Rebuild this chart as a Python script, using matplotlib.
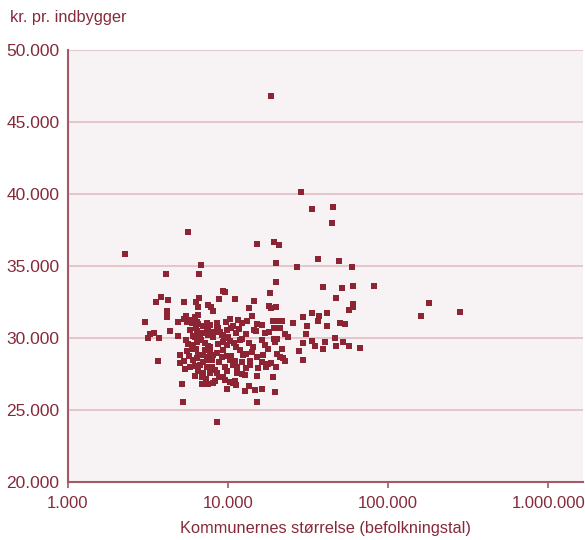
import matplotlib
matplotlib.use("Agg")
import matplotlib.pyplot as plt
import matplotlib.ticker as mticker

TEXT_RED = "#862A3B"
MARK_RED = "#8C2434"
SPINE_RED = "#A55865"
GRID_PINK = "#E3C3C8"
FACE = "#F7F2F4"

# population per municipality (x) and kr. per inhabitant (y)
population = [
    18650, 28710, 33650, 45500, 44860, 5600, 15070, 19300, 20840, 2260,
    6750, 19950, 27000, 36360, 49200, 59800, 4100, 6620, 19950, 9350,
    9580, 18380, 38900, 51800, 60700, 81400, 3800, 3530, 4240, 5330,
    6280, 6620, 6520, 7530, 8820, 10980, 14540, 13590, 17960, 18440,
    19950, 47300, 60700, 60700, 56500, 180400, 282000, 159200, 4140, 4140,
    3020, 4320, 4890, 5470, 5570, 5930, 6520, 6370, 7360, 7010,
    7360, 6310, 3260, 3460, 3180, 3720, 4890, 6020, 6680, 7830,
    8090, 10290, 11550, 12230, 13090, 14060, 15110, 8500, 7720, 10700,
    10390, 8700, 8500, 8910, 9350, 8090, 11220, 12180, 12900, 14540,
    14960, 17030, 18110, 19190, 20450, 21660, 19390, 21130, 25370, 29550,
    31040, 22710, 23820, 19390, 20150, 33650, 37000, 36360, 41750, 41750,
    50100, 53600, 30860, 46400, 29550, 33650, 35000, 40400, 47300, 52550,
    57300, 66500, 38900, 27670, 21130, 22160, 22810, 29210, 14330, 17030,
    19750, 14190, 16480, 15110, 20150, 13720, 13720, 17780, 18490, 17280,
    19950, 19020, 15110, 12720, 13590, 14810, 16240, 12830, 9810, 19670,
    15110, 8500, 11010, 11220, 10790, 10290, 9350, 9620, 12180, 8260,
    8090, 8500, 11330, 10290, 11060, 10790, 11330, 9900, 10390, 12460,
    12960, 11890, 9350, 8500, 8090, 7720, 9350, 10900, 11220, 9810,
    7910, 7910, 8290, 9580, 7720, 3670, 4990, 5010, 5310, 5390,
    5160, 5260, 6850, 7470, 5570, 5930, 6310, 6520, 6430, 6780,
    7180, 7530, 6950, 7360, 5790, 6220, 6680, 6520, 6850, 7010,
    7360, 7530, 5470, 6370, 7720, 5330, 5930, 6220, 6070, 6520,
    7530, 6220, 5790, 6370, 7010, 7530, 8090, 8570, 9130, 9440,
    10000, 10290, 8660, 7180, 6040, 5710, 6040, 6980, 8780, 9170,
    9860, 8780, 7290, 6220, 12230, 12960, 15400, 16310, 21660, 17780,
    11890, 16310, 13530, 11720, 9860, 9720, 16310, 5620,
]
kr_per_inhabitant = [
    46830, 40160, 38980, 39120, 37990, 37400, 36530, 36670, 36460, 35870,
    35090, 35210, 34930, 35510, 35350, 34930, 34430, 34440, 33910, 33310,
    33220, 33120, 33540, 33470, 33610, 33610, 32890, 32540, 32680, 32540,
    32540, 32820, 32140, 32310, 32730, 32730, 32590, 32100, 32240, 32080,
    32170, 32820, 32360, 32170, 31940, 32430, 31850, 31530, 31870, 31500,
    31110, 30510, 31150, 31550, 31150, 31040, 31620, 31150, 31040, 30850,
    30580, 30690, 30280, 30350, 30040, 30040, 30180, 30180, 30230, 32190,
    31900, 31340, 31270, 31080, 31220, 31530, 30990, 31080, 30920, 30850,
    30680, 30690, 30460, 30460, 30230, 30110, 30350, 29970, 30300, 30580,
    30490, 30350, 30460, 31220, 31180, 31220, 30690, 30720, 31080, 31440,
    30870, 30300, 30070, 29970, 29970, 31740, 31530, 31220, 31740, 30850,
    31080, 31010, 30280, 30000, 29650, 29830, 29490, 29760, 29490, 29760,
    29490, 29310, 29260, 29120, 28720, 28610, 28400, 28460, 29420, 29560,
    29720, 29050, 28840, 28680, 28910, 28420, 28150, 28190, 28260, 28030,
    28030, 27310, 27380, 27430, 26710, 26430, 26480, 26360, 26500, 26270,
    25600, 24190, 27060, 26760, 26880, 26990, 27330, 27100, 27520, 27060,
    26880, 27570, 27570, 28490, 28440, 28150, 28030, 28770, 28770, 28840,
    28910, 29190, 29190, 28960, 28840, 29420, 29760, 29650, 29380, 29530,
    28490, 28030, 27800, 28030, 27570, 28440, 28820, 28310, 28440, 27850,
    26810, 25560, 26810, 26810, 29120, 29240, 29240, 28840, 28610, 29880,
    29650, 29470, 28840, 28680, 28030, 28080, 28150, 27750, 27330, 27570,
    28030, 28490, 29880, 29760, 28960, 31320, 31240, 31460, 31080, 30990,
    30620, 30070, 30580, 30510, 30350, 30230, 30460, 30740, 30230, 30020,
    30090, 29810, 29600, 29190, 29530, 28770, 28490, 28350, 28350, 28700,
    27730, 27310, 27170, 27380, 28350, 27940, 27940, 28380, 29260, 29260,
    29880, 29880, 29670, 30650, 30580, 31130, 30920, 29600,
]

y_ticks = [20000, 25000, 30000, 35000, 40000, 45000, 50000]
x_ticks = [1000, 10000, 100000, 1000000]


def dotted_thousands(v, _):
    return f"{int(round(v)):,}".replace(",", ".")


plt.rcParams["font.family"] = ["Liberation Sans", "DejaVu Sans"]

fig = plt.figure(figsize=(5.85, 5.4), dpi=100)
ax = fig.add_axes([0.116, 0.107, 0.881, 0.8])
ax.set_facecolor(FACE)

ax.scatter(population, kr_per_inhabitant, marker="s", s=17, color=MARK_RED,
           linewidths=0, zorder=3)

ax.set_xscale("log")
ax.set_xlim(1000, 1.65e6)
ax.set_ylim(20000, 50000)
ax.set_xticks(x_ticks)
ax.xaxis.set_minor_locator(mticker.NullLocator())
ax.set_yticks(y_ticks)
ax.xaxis.set_major_formatter(mticker.FuncFormatter(dotted_thousands))
ax.yaxis.set_major_formatter(mticker.FuncFormatter(dotted_thousands))

ax.grid(True, axis="y", color=GRID_PINK, linewidth=1.3, zorder=0)
ax.set_axisbelow(True)
for side in ("top", "right"):
    ax.spines[side].set_visible(False)
for side in ("left", "bottom"):
    ax.spines[side].set_color(SPINE_RED)
    ax.spines[side].set_linewidth(1.5)

ax.tick_params(axis="y", length=0, pad=6, labelsize=12.5, labelcolor=TEXT_RED)
ax.tick_params(axis="x", length=4, width=1.2, color=SPINE_RED, pad=6,
               labelsize=12, labelcolor=TEXT_RED)

ax.set_xlabel("Kommunernes størrelse (befolkningstal)", fontsize=11.8,
              color=TEXT_RED, labelpad=7)
fig.text(0.017, 0.968, "kr. pr. indbygger", fontsize=11.8, color=TEXT_RED,
         ha="left", va="center")

fig.savefig("out.png", dpi=100)
